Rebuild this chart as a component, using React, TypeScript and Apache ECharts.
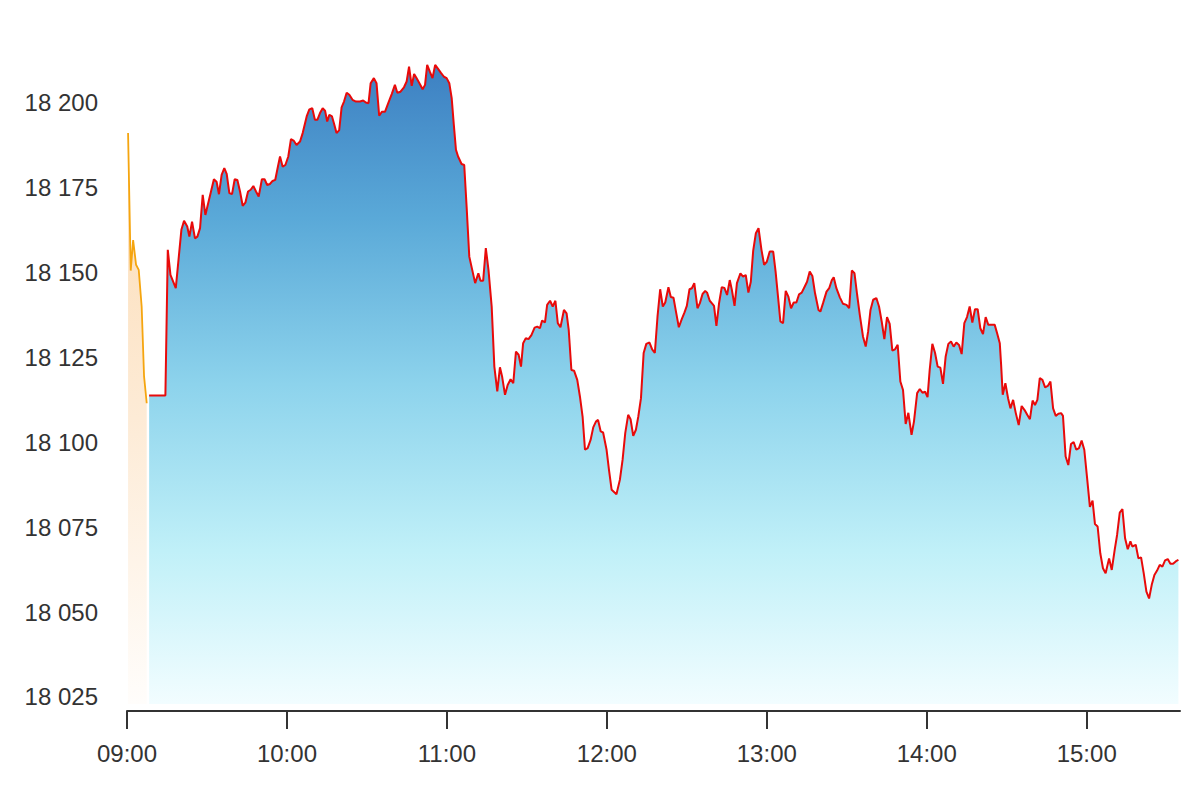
import React, { useEffect, useRef } from "react";
import * as echarts from "echarts";

// minutes after 09:00
const preOpenMinutes = [0.4, 1.4, 2.3, 3.4, 4.4, 5.5, 6.4, 7.4];
const preOpenValues = [18191.1, 18150.6, 18159.6, 18152.3, 18150.8, 18140, 18119.4, 18111.5];

const sessionMinutes = [
  8.3, 14.4, 15.3, 16.3, 18.3, 20.4, 21.4, 22.6, 23.4, 24.4, 25.5, 26.4, 27.4, 28.4, 29.4, 30.9, 32.6, 33.6, 34.5, 35.5,
  36.5, 37.4, 38.4, 39.4, 40.4, 41.4, 42.4, 43.4, 44.4, 45.4, 46.4, 47.4, 48.4, 49.4, 50.6, 51.6, 52.6, 53.6, 54.6, 55.6,
  56.6, 57.4, 58.4, 59.4, 60.5, 61.5, 62.5, 63.6, 64.9, 65.9, 67.4, 68.4, 69.5, 70.5, 71.4, 72.4, 73.4, 74.3, 75.1, 75.9,
  76.9, 77.7, 78.6, 79.6, 80.5, 81.4, 82.4, 83.4, 84.6, 85.9, 87.4, 88.6, 89.6, 90.6, 91.4, 92.6, 93.6, 94.6, 95.6, 96.8,
  98, 99.3, 100.5, 101.4, 102.6, 103.9, 104.9, 105.8, 106.8, 107.7, 108.6, 109.9, 110.9, 111.8, 112.6, 113.6, 114.6, 115.6, 116.7, 117.7,
  118.9, 119.9, 120.9, 121.8, 122.6, 123.4, 124.2, 125.5, 126.5, 127.4, 128.4, 129.5, 130.6, 131.8, 132.6, 133.6, 134.6, 135.6, 136.8, 137.8,
  138.9, 139.9, 140.7, 141.8, 142.8, 143.9, 144.9, 145.9, 146.9, 147.8, 148.6, 149.6, 150.6, 151.7, 152.9, 153.9, 154.9, 155.7, 156.8, 157.6,
  158.7, 159.7, 160.7, 161.6, 162.6, 163.9, 164.9, 165.7, 166.7, 167.7, 168.9, 169.9, 170.9, 171.8, 172.8, 173.9, 174.9, 175.9, 176.7, 177.7,
  178.6, 179.9, 180.8, 181.8, 183.6, 184.9, 185.9, 186.9, 188, 188.9, 189.9, 190.9, 191.8, 192.8, 193.8, 194.8, 196, 197, 198, 199,
  200, 201, 201.9, 203.1, 204, 205, 206, 207, 208.1, 209.1, 210, 211, 211.9, 212.8, 214, 214.9, 215.9, 216.9, 217.6, 218.6,
  219.6, 220.2, 221.1, 222.1, 223.1, 224.1, 225.1, 226.1, 226.9, 227.9, 228.8, 230.1, 231.1, 232.1, 233.1, 234, 234.9, 235.9, 236.9, 238,
  239, 240, 241.1, 242.4, 243.3, 244.3, 245.1, 246.1, 247.1, 248.1, 249.1, 250.1, 251.1, 252.1, 253.1, 254.1, 255.1, 256.1, 257.1, 258.1,
  259.4, 260.1, 261.1, 262.4, 263.4, 264.4, 265.1, 266.1, 267.4, 268.6, 269.9, 270.9, 271.9, 272.9, 273.9, 274.9, 276.1, 277.1, 278, 278.9,
  279.9, 281.1, 282.1, 283.1, 284.1, 285.1, 286.1, 287.1, 288.1, 289.1, 290.1, 291.1, 292.1, 293.1, 294.3, 295.2, 296.4, 297.4, 298.4, 299.4,
  300.3, 301.1, 302.1, 303.1, 304.1, 305.1, 306.1, 307.1, 308.1, 309.1, 310.1, 311.1, 312.1, 313.1, 314.1, 315.1, 316.1, 317.1, 318.1, 319.1,
  320.1, 321.1, 322.1, 323.1, 324.2, 325.5, 326.4, 327.4, 327.9, 328.5, 329.5, 330.5, 331.4, 332.4, 333.4, 334.5, 335.6, 336.7, 337.7, 338.7,
  339.7, 340.6, 341.5, 342.4, 343.4, 344.4, 345.4, 346.4, 347.4, 348.4, 349.4, 350.4, 351.1, 352.1, 353.1, 354.1, 355.1, 356.1, 357.1, 358.1,
  359.1, 360.1, 361.2, 362.2, 363.1, 364.1, 365.1, 366.1, 367.1, 368.4, 369.4, 370.5, 371.4, 372.4, 373.4, 374.4, 375.4, 376.4, 377.1, 378.4,
  379.4, 380.4, 381.4, 382.4, 383.4, 384.4, 385.4, 386.4, 387.4, 388.4, 389.4, 390.4, 391.4, 392.4, 393.4, 394.4,
];
const sessionValues = [
  18113.8, 18113.8, 18156.7, 18149.3, 18145.4, 18162.6, 18165.3, 18163.6, 18160.6, 18165, 18160.1, 18160.6, 18163.1, 18172.9, 18167, 18171.9, 18177.5, 18176.8, 18173.1, 18178.8,
  18180.8, 18179.1, 18173.4, 18173.1, 18177.5, 18177.3, 18173.9, 18169.7, 18170.6, 18173.9, 18174.4, 18175.5, 18173.9, 18172.4, 18177.5, 18177.5, 18175.8, 18176.1, 18177, 18177.3,
  18181.2, 18184.2, 18181.2, 18181.7, 18184.2, 18189.3, 18188.9, 18187.6, 18188.6, 18191.1, 18196, 18198.1, 18198.4, 18195, 18195, 18197, 18198.4, 18197.7, 18194.5, 18196.5,
  18196, 18193.8, 18191.1, 18192, 18198.7, 18200.4, 18203, 18202.4, 18200.9, 18200.4, 18200.4, 18200.7, 18200.1, 18199.9, 18205.8, 18207.3, 18205.8, 18196.2, 18197.4, 18197.4,
  18199.9, 18202.6, 18205.3, 18203, 18203.3, 18204.6, 18206.3, 18210.7, 18205, 18208.5, 18207.3, 18205.5, 18204, 18205.3, 18211.2, 18209.2, 18207.3, 18211.2, 18210, 18208.9,
  18207.7, 18207.3, 18205.8, 18201.4, 18193.5, 18186.2, 18184.2, 18182, 18181.7, 18169.4, 18154.7, 18150.8, 18146.9, 18149.8, 18147.6, 18147.6, 18157.2, 18150.8, 18140, 18122.3,
  18115, 18122.1, 18119.4, 18114, 18116.9, 18118.6, 18117.4, 18126.7, 18125.8, 18122.3, 18129.2, 18130.7, 18130.4, 18131.6, 18133.8, 18134.1, 18133.6, 18135.9, 18135.3, 18140.5,
  18141.7, 18140, 18141.7, 18135.1, 18133.9, 18139, 18138, 18133.1, 18121.3, 18121.1, 18118.4, 18113.5, 18107.6, 18097.8, 18098.3, 18100.7, 18104.4, 18106.1, 18106.6, 18103.2,
  18102.9, 18097.8, 18091.9, 18086, 18084.7, 18089, 18094.8, 18102.7, 18108.1, 18106.8, 18101.9, 18103.7, 18107.6, 18113, 18126.3, 18129, 18129.4, 18127.4, 18126.3, 18137,
  18145.1, 18140, 18141.2, 18145.7, 18142.8, 18142.6, 18138.2, 18133.9, 18136.3, 18138.2, 18140.2, 18145.1, 18145.4, 18146.9, 18139.5, 18141, 18143.7, 18144.6, 18144.1, 18141.7,
  18140.8, 18140.2, 18134.3, 18141, 18145.7, 18145.5, 18143.4, 18147.8, 18144.9, 18140.2, 18146.9, 18149.8, 18148.8, 18149.3, 18144.1, 18147.3, 18156.5, 18161.6, 18163.1, 18156.7,
  18152.3, 18153.2, 18156.2, 18156.2, 18150.3, 18142.2, 18135.6, 18135.1, 18144.6, 18142.9, 18139.5, 18141.2, 18141.2, 18143.6, 18144.1, 18145.7, 18147.3, 18150.3, 18149, 18143.9,
  18139, 18138.5, 18141, 18144.4, 18145.4, 18147.8, 18148.6, 18145.4, 18142.7, 18140.8, 18140.5, 18139.5, 18150.6, 18149.8, 18143.4, 18137.5, 18131.1, 18128.2, 18132.6, 18139,
  18142, 18142.5, 18140, 18135.6, 18130.4, 18136.9, 18134.9, 18127, 18127.4, 18128.7, 18117.9, 18115.4, 18105.4, 18108.7, 18102.2, 18106.1, 18114.5, 18115.7, 18114.6, 18114.9,
  18113.3, 18121.3, 18129, 18126.4, 18122.3, 18122, 18117.2, 18125.3, 18129, 18129.7, 18128.2, 18129.4, 18128.7, 18126, 18135.1, 18136.9, 18140, 18135.3, 18139.2, 18139.2,
  18133.6, 18131.9, 18136.9, 18134.6, 18134.6, 18134.6, 18132.1, 18129.2, 18122.8, 18114, 18117.4, 18113, 18110, 18112.5, 18108.6, 18105.1, 18110.7, 18109.5, 18108.1, 18106.8,
  18112.3, 18111, 18112.5, 18118.9, 18118.4, 18116.2, 18116.6, 18117.9, 18110, 18107.8, 18108.4, 18108.6, 18107.8, 18095.8, 18093.3, 18099.5, 18100.1, 18097.8, 18098.3, 18100.5,
  18097.8, 18089.9, 18081, 18082.8, 18075.9, 18075.2, 18067.3, 18062.9, 18061.4, 18065.8, 18062.4, 18068.3, 18072.7, 18079.3, 18080.3, 18071.7, 18068.5, 18070.8, 18069.3, 18069.8,
  18065.8, 18066.1, 18061.4, 18056, 18054, 18058, 18060.9, 18062.2, 18063.9, 18063.4, 18065.2, 18065.6, 18064.2, 18064.2, 18064.9, 18065.4,
];

const xTickMinutes = [0, 60, 120, 180, 240, 300, 360];
const yTickValues = [18025, 18050, 18075, 18100, 18125, 18150, 18175, 18200];

const fmtTime = (m: number) => {
  const h = 9 + Math.floor(m / 60);
  const mm = Math.round(m % 60);
  return String(h).padStart(2, "0") + ":" + String(mm).padStart(2, "0");
};
const fmtNum = (v: number) => String(Math.round(v)).replace(/\B(?=(\d{3})+(?!\d))/g, " ");

export default function App() {
  const ref = useRef<HTMLDivElement>(null);
  useEffect(() => {
    if (!ref.current) return;
    const chart = echarts.init(ref.current, undefined, { renderer: "svg" });
    const preData = preOpenMinutes.map((m, i) => [m, preOpenValues[i]]);
    const sesData = sessionMinutes.map((m, i) => [m, sessionValues[i]]);
    const font = "Liberation Sans, Arial, sans-serif";
    chart.setOption({
      animation: false,
      backgroundColor: "#ffffff",
      grid: { left: 127, right: 20, top: 35, bottom: 96, containLabel: false },
      xAxis: {
        type: "value",
        min: 0,
        max: 395,
        offset: 7,
        splitLine: { show: false },
        axisLine: { show: true, lineStyle: { color: "#333333", width: 2 } },
        axisTick: { show: true, length: 18, lineStyle: { color: "#333333", width: 2 }, customValues: xTickMinutes },
        axisLabel: {
          customValues: xTickMinutes,
          formatter: (v: number) => fmtTime(v),
          fontSize: 24,
          color: "#333333",
          fontFamily: font,
          margin: 30,
        },
      },
      yAxis: {
        type: "value",
        min: 18022.9,
        max: 18220,
        splitLine: { show: false },
        axisLine: { show: false },
        axisTick: { show: false },
        axisLabel: {
          customValues: yTickValues,
          formatter: (v: number) => fmtNum(v),
          fontSize: 24,
          color: "#333333",
          fontFamily: font,
          margin: 29,
        },
      },
      series: [
        {
          type: "line",
          data: preData,
          showSymbol: false,
          lineStyle: { color: "#f5a50f", width: 1.8 },
          areaStyle: {
            opacity: 1,
            color: new echarts.graphic.LinearGradient(0, 0, 0, 1, [
              { offset: 0, color: "#fcdcb5" },
              { offset: 0.5, color: "#fdebd6" },
              { offset: 1, color: "#fffdfb" },
            ]),
          },
          z: 2,
        },
        {
          type: "line",
          data: sesData,
          showSymbol: false,
          lineStyle: { color: "#e80a0a", width: 2 },
          areaStyle: {
            opacity: 1,
            color: new echarts.graphic.LinearGradient(0, 0, 0, 1, [
              { offset: 0, color: "#3d80c2" },
              { offset: 0.24, color: "#5aa9d8" },
              { offset: 0.5, color: "#8dd3ec" },
              { offset: 0.76, color: "#c0f0f8" },
              { offset: 1, color: "#f2fdff" },
            ]),
          },
          z: 3,
        },
      ],
    });
    return () => chart.dispose();
  }, []);
  return (
    <div
      ref={ref}
      style={{ position: "fixed", left: 0, top: 0, width: 1200, height: 800, background: "#fff" }}
    />
  );
}
